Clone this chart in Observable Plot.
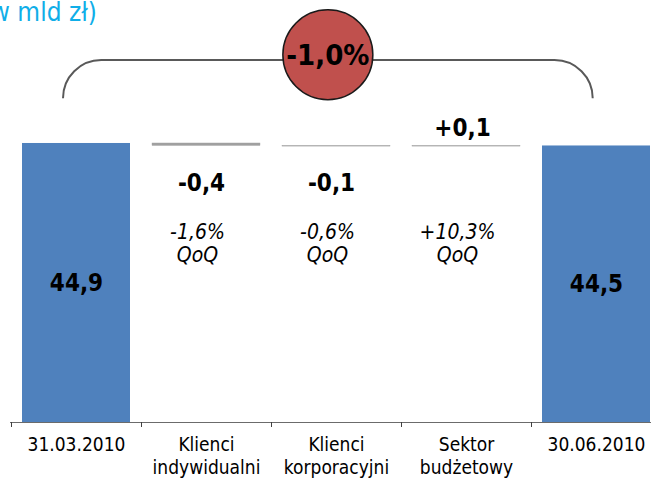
<!DOCTYPE html>
<html>
<head>
<meta charset="utf-8">
<script src="https://cdn.jsdelivr.net/npm/d3@7"></script>
<script src="https://cdn.jsdelivr.net/npm/@observablehq/plot@0.6"></script>
<style>
  html, body { margin: 0; padding: 0; background: #fff; }
  #wrap { position: relative; width: 651px; height: 484px; overflow: hidden; }
  #title { position: absolute; right: 554px; top: -1px; white-space: nowrap; line-height: 1;
           font-family: 'DejaVu Sans Condensed', 'DejaVu Sans', sans-serif; font-stretch: condensed;
           font-size: 26px; color: #0FAEE8; }
  #chart { position: absolute; left: 0; top: 0; }
</style>
</head>
<body>
<div id="wrap">
  <div id="title">(w mld zł)</div>
  <div id="chart"></div>
</div>
<script>
// ---- data ----
const categories = ["31.03.2010", "Klienci\nindywidualni", "Klienci\nkorporacyjni", "Sektor\nbudżetowy", "30.06.2010"];
const startValue = 44.9;
const endValue = 44.5;
const totalLabels = ["44,9", "44,5"];
const changes = [-0.4, -0.1, 0.1];
const changeLabels = ["-0,4", "-0,1", "+0,1"];
const qoqLabels = ["-1,6%", "-0,6%", "+10,3%"];
const totalChangeLabel = "-1,0%";

// ---- derived tables ----
const totals = [
  {cat: categories[0], value: startValue, label: totalLabels[0]},
  {cat: categories[4], value: endValue, label: totalLabels[1]}
];
let running = startValue;
const floats = changes.map((c, i) => {
  const from = running;
  running = +(running + c).toFixed(4);
  return {cat: categories[i + 1], from, to: running, change: c, label: changeLabels[i], qoq: qoqLabels[i]};
});

const font = "'DejaVu Sans Condensed', 'DejaVu Sans', sans-serif";
const paddingInner = 0.17, paddingOuter = 0.085;

// tick marks at band boundaries
function boundaryTicks(index, scales) {
  const x = scales.x, y = scales.y;
  const step = x(categories[1]) - x(categories[0]);
  const off = step * paddingOuter;
  const g = d3.create("svg:g");
  categories.forEach(c => {
    const bx = Math.round(x(c) - off) + 0.5;
    g.append("line").attr("x1", bx).attr("x2", bx)
      .attr("y1", y(0)).attr("y2", y(0) + 5)
      .attr("stroke", "#404040").attr("stroke-width", 1);
  });
  return g.node();
}

// bracket + circle annotation for total change
function totalAnnotation(index, scales) {
  const x = scales.x, y = scales.y;
  const step = x(categories[1]) - x(categories[0]);
  const bw = step * (1 - paddingInner);
  const L = x(categories[0]) + bw * 0.38;
  const R = x(categories[4]) + bw * 0.47;
  const T = y(58.25), B = y(52.1);
  const r = B - T;
  const g = d3.create("svg:g");
  g.append("path")
    .attr("d", `M${L},${B} A${r},${r} 0 0 1 ${L + r},${T} H${R - r} A${r},${r} 0 0 1 ${R},${B}`)
    .attr("fill", "none").attr("stroke", "#595959").attr("stroke-width", 2);
  const cx = (L + R) / 2, cy = y(59.1);
  g.append("circle").attr("cx", cx).attr("cy", cy).attr("r", 45)
    .attr("fill", "#C0504D").attr("stroke", "#1a1a1a").attr("stroke-width", 1.5);
  g.append("text").attr("x", cx).attr("y", cy).attr("dy", "0.36em")
    .attr("text-anchor", "middle").attr("font-family", font)
    .attr("font-weight", "bold").attr("font-size", 29).attr("fill", "#000")
    .text(totalChangeLabel);
  return g.node();
}

const chart = Plot.plot({
  width: 651,
  height: 484,
  marginTop: 10,
  marginBottom: 62,
  marginLeft: 10,
  marginRight: 0,
  style: {fontFamily: font, fontStretch: "condensed", background: "transparent", overflow: "visible"},
  x: {domain: categories, range: [10, 661.5], paddingInner, paddingOuter, axis: null},
  y: {domain: [0, 66.3], axis: null},
  marks: [
    Plot.barY(totals, {x: "cat", y: "value", fill: "#4F81BD"}),
    Plot.barY(floats, {x: "cat", y1: "from", y2: "to", fill: "#A0A0A0", stroke: "#A0A0A0", strokeWidth: 0.4}),
    Plot.ruleY([0], {stroke: "#6b6b6b", strokeWidth: 1}),
    boundaryTicks,
    Plot.text(totals, {x: "cat", y: d => d.value / 2, text: "label", fontSize: 24, fontWeight: "bold", fill: "#000"}),
    Plot.text(floats.filter(d => d.change < 0), {x: "cat", y: "to", text: "label", dy: 37, fontSize: 24, fontWeight: "bold", fill: "#000", dx: -5}),
    Plot.text(floats.filter(d => d.change >= 0), {x: "cat", y: "to", text: "label", dy: -18, fontSize: 24, fontWeight: "bold", fill: "#000", dx: -4}),
    Plot.text(floats, {x: "cat", y: () => 28.9, text: d => d.qoq + "\nQoQ", fontSize: 21, fontStyle: "italic", lineHeight: 1.1, dx: -9, fill: "#000"}),
    Plot.text(categories, {x: d => d, y: () => 0, text: d => d, dy: 12, lineAnchor: "top", fontSize: 19, lineHeight: 1.22, fill: "#000"}),
    totalAnnotation
  ]
});
document.getElementById("chart").appendChild(chart);
</script>
</body>
</html>
